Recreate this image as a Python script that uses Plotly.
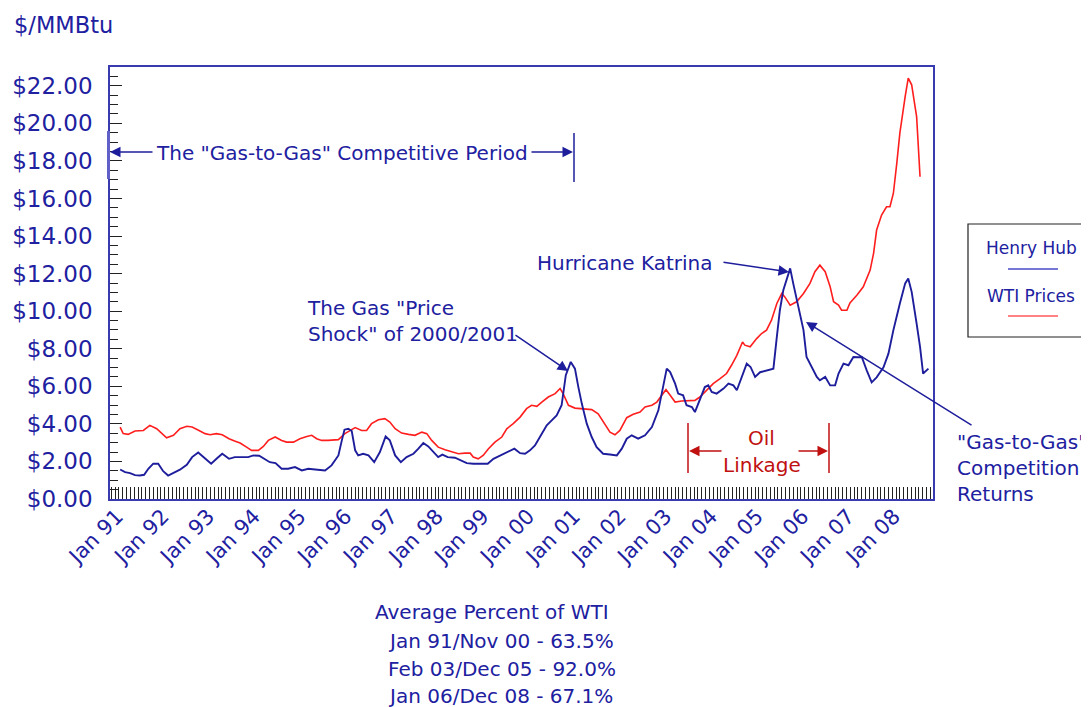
import plotly.graph_objects as go

# ---------------- data ----------------
# x = months since Jan 1991 (0 = Jan 91), y = $/MMBtu
hh_month = [0.3, 1.6, 2.9, 4.2, 5.5, 6.6, 7.7, 9.0, 10.3, 11.6, 12.9, 14.3, 16.0, 17.8, 19.2, 20.8,
            22.4, 24.2, 25.6, 27.1, 28.9, 30.4, 33.9, 35.3, 36.8, 38.3, 39.6, 41.1, 42.7, 44.4, 46.2,
            48.0, 49.7, 51.5, 54.1, 55.8, 57.6, 58.5, 59.2, 60.2, 61.1, 62.0, 62.8, 64.1, 65.5, 67.0,
            68.5, 70.0, 71.1, 72.5, 74.0, 75.5, 77.3, 78.6, 79.9, 81.2, 82.5, 83.8, 84.9, 86.3, 88.2,
            90.0, 91.3, 93.0, 96.8, 98.3, 100.0, 101.8, 103.8, 105.3, 106.6, 107.9, 109.2, 110.5, 112.3,
            113.6, 114.9, 116.2, 116.9, 117.3, 118.6, 119.7, 120.6, 121.5, 122.8, 124.1, 125.4, 127.1,
            128.9, 130.7, 132.0, 133.3, 134.6, 136.3, 138.1, 139.9, 141.6, 142.7, 143.8, 144.7, 146.0,
            146.8, 148.1, 149.0, 150.4, 151.2, 152.5, 153.8, 154.7, 155.6, 156.9, 158.7, 160.0, 161.3,
            162.2, 163.5, 164.8, 165.8, 167.0, 168.3, 170.0, 171.8, 172.7, 173.5, 174.4, 175.3, 176.2,
            177.0, 178.3, 179.7, 180.5, 181.9, 183.2, 184.0, 185.4, 186.7, 188.0, 188.9, 190.2, 191.5,
            192.8, 194.1, 195.0, 196.3, 197.6, 198.9, 200.7, 202.0, 203.3, 205.0, 206.4, 207.2, 208.1,
            209.4, 210.3, 211.1, 212.5]
hh_price = [1.57, 1.43, 1.38, 1.27, 1.25, 1.29, 1.61, 1.88, 1.88, 1.48, 1.25, 1.38, 1.56, 1.82, 2.23, 2.48,
            2.20, 1.88, 2.14, 2.41, 2.14, 2.23, 2.23, 2.32, 2.30, 2.14, 1.96, 1.91, 1.61, 1.61, 1.70,
            1.52, 1.61, 1.57, 1.52, 1.79, 2.32, 3.12, 3.69, 3.74, 3.62, 2.59, 2.32, 2.41, 2.32, 1.96,
            2.50, 3.33, 3.12, 2.32, 1.96, 2.23, 2.41, 2.68, 2.98, 2.80, 2.50, 2.23, 2.36, 2.23, 2.20,
            2.05, 1.91, 1.88, 1.88, 2.14, 2.32, 2.50, 2.68, 2.44, 2.41, 2.59, 2.85, 3.30, 3.92,
            4.19, 4.45, 4.99, 5.96, 6.59, 7.30, 6.94, 5.96, 5.08, 4.01, 3.30, 2.76, 2.41,
            2.37, 2.32, 2.68, 3.21, 3.39, 3.21, 3.39, 3.83, 4.72, 5.79, 6.94, 6.76, 6.14,
            5.61, 5.52, 4.99, 4.90, 4.63, 5.34, 5.96, 6.05, 5.70, 5.61, 5.88, 6.14, 6.05,
            5.79, 6.50, 7.21, 7.03, 6.50, 6.75, 6.85, 6.94, 8.63, 10.05, 11.12, 11.65, 12.28,
            11.48, 10.32, 8.99, 7.56, 7.03, 6.50, 6.32, 6.50, 6.05, 6.05, 6.68, 7.21, 7.12,
            7.56, 7.55, 7.56, 6.85, 6.21, 6.48, 7.01, 7.74, 8.99, 10.41, 11.48, 11.74, 11.03,
            9.34, 8.10, 6.68, 6.94]

wti_month = [0.3, 1.1, 2.4, 4.2, 6.4, 8.1, 9.9, 11.2, 12.5, 14.3, 16.0, 17.8, 19.2, 21.0, 22.6, 23.9,
             25.6, 27.1, 28.9, 30.5, 31.8, 33.5, 34.8, 36.6, 37.9, 39.2, 41.0, 42.7, 44.0, 45.8, 47.5,
             49.3, 50.6, 51.9, 53.2, 54.9, 57.6, 59.3, 62.0, 63.7, 65.0, 66.3, 68.1, 69.8, 71.1, 72.5,
             74.2, 76.0, 77.7, 79.5, 80.8, 82.1, 83.8, 85.6, 87.3, 89.1, 90.8, 92.2, 93.0, 94.3, 95.6,
             97.0, 98.7, 100.5, 101.8, 103.5, 105.3, 107.0, 108.3, 109.7, 111.0, 112.7, 114.5, 115.8,
             116.6, 118.0, 119.7, 121.9, 124.1, 125.8, 127.6, 128.9, 130.2, 131.5, 133.3, 135.0, 136.8,
             138.1, 139.9, 141.2, 142.5, 143.6, 144.7, 146.0, 147.7, 149.5, 151.2, 152.5, 154.3, 156.0,
             157.8, 159.5, 160.8, 162.2, 163.7, 164.3, 165.7, 167.4, 168.7, 170.0, 171.3, 172.7, 174.0,
             174.8, 176.2, 177.9, 179.7, 181.4, 182.7, 184.0, 185.4, 186.7, 187.6, 188.9, 189.7, 191.1,
             191.9, 193.7, 195.4, 197.2, 198.1, 198.9, 200.2, 201.5, 202.4, 203.3, 204.2, 205.0, 206.4,
             207.2, 208.1, 209.4, 210.3]
wti_price = [3.83, 3.48, 3.44, 3.62, 3.65, 3.92, 3.74, 3.48, 3.26, 3.39, 3.74, 3.87, 3.83, 3.65, 3.48, 3.42,
             3.48, 3.42, 3.21, 3.08, 2.98, 2.76, 2.59, 2.59, 2.80, 3.12, 3.30, 3.12, 3.03, 3.03, 3.21,
             3.33, 3.39, 3.21, 3.12, 3.12, 3.16, 3.48, 3.80, 3.65, 3.65, 4.01, 4.22, 4.28, 4.10, 3.74,
             3.51, 3.44, 3.39, 3.56, 3.48, 3.12, 2.76, 2.62, 2.53, 2.41, 2.44, 2.44, 2.23, 2.14, 2.32,
             2.68, 3.03, 3.30, 3.74, 4.01, 4.36, 4.81, 4.99, 4.93, 5.16, 5.43, 5.61, 5.88,
             5.61, 4.99, 4.84, 4.81, 4.76, 4.54, 4.01, 3.56, 3.42, 3.65, 4.33, 4.51, 4.63,
             4.90, 4.99, 5.16, 5.52, 5.82, 5.52, 5.16, 5.22, 5.25, 5.25, 5.43, 5.79, 6.14,
             6.41, 6.68, 7.12, 7.65, 8.36, 8.19, 8.10, 8.54, 8.81, 8.99, 9.52, 10.41, 10.94,
             10.76, 10.32, 10.50, 10.94, 11.48, 12.10, 12.45, 12.10, 11.30, 10.50, 10.32, 10.05, 10.05,
             10.44, 10.85, 11.30, 12.19, 13.08, 14.32, 15.12, 15.56, 15.56, 16.28, 17.88, 19.48, 21.43,
             22.41, 22.05, 20.36, 17.16]

year_ticks = list(range(0, 205, 12))
year_labels = ["Jan 91", "Jan 92", "Jan 93", "Jan 94", "Jan 95", "Jan 96", "Jan 97", "Jan 98", "Jan 99",
               "Jan 00", "Jan 01", "Jan 02", "Jan 03", "Jan 04", "Jan 05", "Jan 06", "Jan 07", "Jan 08"]
price_ticks = list(range(0, 23, 2))

# ---------------- styling / layout helpers ----------------
OFF = 8                      # page body margin in the browser
W, H = 1089 - OFF, 707 - OFF
L, R, T, B = 110, 933, 67, 499   # plot area, in screen pixels
FONT = "DejaVu Sans"
TXT = "#2020A0"
NAVY = "#1E1E9C"
RED = "#FF1E1E"
DKRED = "#C01010"


def px(x):
    return (x - L) / (R - L)


def py(y):
    return (B - y) / (B - T)


fig = go.Figure()
fig.add_trace(go.Scatter(x=wti_month, y=wti_price, mode="lines", name="WTI Prices",
                         line=dict(color=RED, width=1.6), showlegend=False))
fig.add_trace(go.Scatter(x=hh_month, y=hh_price, mode="lines", name="Henry Hub",
                         line=dict(color=NAVY, width=1.9), showlegend=False))

fig.update_layout(
    width=W, height=H, autosize=False,
    margin=dict(l=L - OFF, r=W - (R - OFF), t=T - OFF, b=H - (B - OFF), pad=0, autoexpand=False),
    paper_bgcolor="white", plot_bgcolor="white",
    font=dict(family=FONT, color=TXT, size=20),
    xaxis=dict(range=[-2.36, 213.7], tickmode="array", tickvals=year_ticks, ticktext=year_labels,
               tickangle=-45, ticks="inside", ticklen=12, tickcolor="#222", tickwidth=1,
               ticklabelshift=-2, ticklabelstandoff=-5, automargin=False,
               tickfont=dict(family=FONT, size=21, color=TXT),
               minor=dict(dtick=1, tick0=0, ticks="inside", ticklen=12, tickcolor="#222", tickwidth=1),
               showgrid=False, zeroline=False, showline=True, linecolor="#3A3AB0", linewidth=1.5,
               mirror=True),
    yaxis=dict(range=[0, 23], tickmode="array", tickvals=price_ticks,
               ticktext=["$%.2f" % v for v in price_ticks],
               ticks="inside", ticklen=12, tickcolor="#222", tickwidth=1, ticklabelstandoff=11,
               automargin=False,
               tickfont=dict(family=FONT, size=23, color=TXT),
               minor=dict(dtick=0.5, tick0=0, ticks="inside", ticklen=8, tickcolor="#222", tickwidth=1),
               showgrid=False, zeroline=False, showline=True, linecolor="#3A3AB0", linewidth=1.5,
               mirror=True),
)

ann = []
shapes = []


def text(x, y, s, size=20, color=TXT, xanchor="center", align="center"):
    ann.append(dict(x=px(x), y=py(y), xref="paper", yref="paper", text=s, showarrow=False,
                    xanchor=xanchor, yanchor="middle", align=align,
                    font=dict(family=FONT, size=size, color=color)))


def arrow(hx, hy, tx, ty, color=NAVY):
    ann.append(dict(x=px(hx), y=py(hy), xref="paper", yref="paper", text="", showarrow=True,
                    ax=tx - hx, ay=ty - hy, axref="pixel", ayref="pixel",
                    arrowhead=2, arrowsize=1.4, arrowwidth=1.5, arrowcolor=color, standoff=0))


def vline(x, y0, y1, color=NAVY, width=1.5):
    shapes.append(dict(type="line", xref="paper", yref="paper", x0=px(x), x1=px(x),
                       y0=py(y0), y1=py(y1), line=dict(color=color, width=width)))


def hline(x0, x1, y, color, width=1.5):
    shapes.append(dict(type="line", xref="paper", yref="paper", x0=px(x0), x1=px(x1),
                       y0=py(y), y1=py(y), line=dict(color=color, width=width)))


# unit label
text(12, 25, "$/MMBtu", size=22.5, xanchor="left", align="left")

# Gas-to-Gas competitive period
text(342, 153, "The \"Gas-to-Gas\" Competitive Period", size=20)
vline(108.5, 131, 179, color="#6060C8", width=3)
vline(574, 133, 182)
arrow(110, 152, 154, 152)
arrow(573, 152, 530, 152)

# price shock
text(305, 321, "The Gas \"Price<br>Shock\" of 2000/2001", size=20, xanchor="left", align="left")
arrow(568, 371, 514, 334)

# Katrina
text(535, 263, "Hurricane Katrina", size=20, xanchor="left", align="left")
arrow(789, 272, 722, 262)

# gas-to-gas returns
text(955, 468, "\"Gas-to-Gas\"<br>Competition<br>Returns", size=20, xanchor="left", align="left")
arrow(806, 322, 973, 426)

# oil linkage
text(761, 438, "Oil", size=20, color=DKRED)
text(762, 465, "Linkage", size=20, color=DKRED)
vline(688, 423, 473, color=DKRED)
vline(829, 423, 473, color=DKRED)
arrow(689, 451, 723, 451, color=DKRED)
arrow(828, 451, 797, 451, color=DKRED)

# legend box
shapes.append(dict(type="rect", xref="paper", yref="paper", x0=px(968), x1=px(1100),
                   y0=py(337), y1=py(224), line=dict(color="#222", width=1.2)))
text(1031, 248, "Henry Hub", size=17)
hline(1008, 1058, 269, "#4A4AC8", 1.5)
text(1031, 296, "WTI Prices", size=17)
hline(1008, 1058, 316, "#FF5A5A", 1.5)

# bottom summary
text(373, 612, "Average Percent of WTI", size=20, xanchor="left", align="left")
text(386, 641, "Jan 91/Nov 00 - 63.5%", size=20, xanchor="left", align="left")
text(386, 669, "Feb 03/Dec 05 - 92.0%", size=20, xanchor="left", align="left")
text(386, 696, "Jan 06/Dec 08 - 67.1%", size=20, xanchor="left", align="left")

fig.update_layout(annotations=ann, shapes=shapes)
fig.write_html("out.html")
